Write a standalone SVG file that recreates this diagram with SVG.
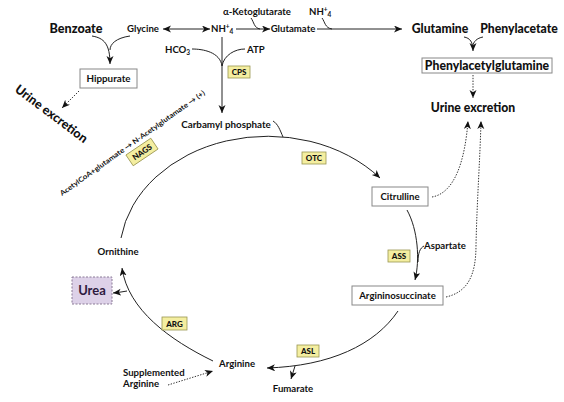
<svg xmlns="http://www.w3.org/2000/svg" width="564" height="402" viewBox="0 0 564 402">
<style>
text{font-family:Lato,"Open Sans","DejaVu Sans",sans-serif;fill:#111;font-weight:700}
.s{font-size:9.6px}
.m{font-size:9.8px}
.h{font-size:12.2px;font-weight:900}
.hb{font-size:12.6px;font-weight:900}
.e{font-size:8px;font-weight:900}
.box{fill:#fff;stroke:#888;stroke-width:1}
.enz{fill:#f4eea0;stroke:#9a9650;stroke-width:0.8}
.ln{fill:none;stroke:#222;stroke-width:1}
.dot{fill:none;stroke:#333;stroke-width:1;stroke-dasharray:1.4 1.4}
</style>
<defs>
<marker id="ah" markerUnits="userSpaceOnUse" markerWidth="9" markerHeight="8" refX="8" refY="3.5" orient="auto-start-reverse">
<path d="M0,0 L8,3.5 L0,7 L2.2,3.5 z" fill="#111"/>
</marker>
</defs>
<rect width="564" height="402" fill="#fff"/>

<g id="connectors">
<path class="ln" d="M163,29 L210,29" marker-start="url(#ah)" marker-end="url(#ah)"/>
<path class="ln" d="M236,29 L270,29" marker-end="url(#ah)"/>
<path class="ln" d="M251,18 C254,22 254,28 260,29"/>
<path class="ln" d="M317,29 L402,29" marker-end="url(#ah)"/>
<path class="ln" d="M322,18 C325,22 325,28 332,29"/>
<path class="ln" d="M464,37 C470,38 473,42 473,51" marker-end="url(#ah)"/>
<path class="ln" d="M483,37 C477,38 473,42 473,46"/>
<path class="dot" d="M473,75 L473,98" marker-end="url(#ah)"/>
<path class="ln" d="M92,36 C104,38 110,44 110,64" marker-end="url(#ah)"/>
<path class="ln" d="M130,36 C116,38 110,44 110,50"/>
<path class="dot" d="M79,91 L62,108" marker-end="url(#ah)"/>
<path class="ln" d="M222,37 L222,113" marker-end="url(#ah)"/>
<path class="ln" d="M192,49 C203,49 220,52 222,66"/>
<path class="ln" d="M245,49 C235,49 224,55 222,66"/>
<path class="ln" d="M273,121 C278,124 280,130 283,137"/>
<path class="ln" d="M121,238 A148,119 0 0 1 380,178" marker-end="url(#ah)"/>
<path class="ln" d="M407,210 C418,230 420,260 415,280" marker-end="url(#ah)"/>
<path class="ln" d="M424,246 C420,248 418,253 418,262"/>
<path class="dot" d="M432,197 C455,193 465,160 468,121" marker-end="url(#ah)"/>
<path class="dot" d="M446,297 C468,292 476,275 476,245 C477,200 480,160 481,121" marker-end="url(#ah)"/>
<path class="ln" d="M398,311 C375,345 330,366 267,368" marker-end="url(#ah)"/>
<path class="ln" d="M295,366 L291,379" marker-end="url(#ah)"/>
<path class="ln" d="M213,361 C170,340 128,310 122,268" marker-end="url(#ah)"/>
<path class="ln" d="M127,291 Q122,292 113,293" marker-end="url(#ah)"/>
<path class="dot" d="M168,385 L213,371" marker-end="url(#ah)"/>
</g>

<g id="benzoate"><text class="hb" x="76" y="33" text-anchor="middle">Benzoate</text></g>
<g id="glycine"><text class="s" x="143" y="32" text-anchor="middle">Glycine</text></g>
<g id="nh4"><text class="s" x="211" y="32">NH<tspan font-size="6.5" dy="-3.5">+</tspan><tspan font-size="6.5" dy="5.5">4</tspan></text></g>
<g id="aketo"><text class="s" x="257" y="15" text-anchor="middle">α-Ketoglutarate</text></g>
<g id="nh4b"><text class="s" x="309" y="15">NH<tspan font-size="6.5" dy="-3.5">+</tspan><tspan font-size="6.5" dy="5.5">4</tspan></text></g>
<g id="glutamate"><text class="s" x="293" y="32" text-anchor="middle">Glutamate</text></g>
<g id="glutamine"><text class="h" x="440" y="33" text-anchor="middle">Glutamine</text></g>
<g id="phenylacetate"><text class="h" x="519" y="33" text-anchor="middle">Phenylacetate</text></g>
<g id="pag"><rect class="box" x="422" y="58" width="130" height="15"/><text class="h" x="487" y="69.5" text-anchor="middle" font-size="11">Phenylacetylglutamine</text></g>
<g id="urine-right"><text class="h" x="473" y="112" text-anchor="middle" font-size="12.6">Urine excretion</text></g>
<g id="hippurate"><rect class="box" x="80" y="69" width="57" height="19"/><text class="m" x="108.5" y="82" text-anchor="middle">Hippurate</text></g>
<g id="urine-left"><text class="hb" transform="translate(14,91) rotate(37)">Urine excretion</text></g>
<g id="hco3"><text class="s" x="165" y="53">HCO<tspan font-size="6.5" dy="2">3</tspan></text></g>
<g id="atp"><text class="s" x="247" y="53">ATP</text></g>
<g id="cps"><rect class="enz" x="228" y="66" width="22" height="12"/><text class="e" x="239" y="75" text-anchor="middle">CPS</text></g>
<g id="carbamyl"><text class="m" x="226" y="128" text-anchor="middle">Carbamyl phosphate</text></g>
<g id="nags-text"><text font-size="7" transform="translate(62,196) rotate(-35.4)" textLength="176" lengthAdjust="spacingAndGlyphs">AcetylCoA+glutamate → N-Acetylglutamate → (+)</text></g>
<g id="nags" transform="translate(142,152) rotate(-34)"><rect class="enz" x="-15" y="-6.5" width="30" height="13"/><text class="e" x="0" y="3" text-anchor="middle">NAGS</text></g>
<g id="otc"><rect class="enz" x="302" y="152" width="24" height="12"/><text class="e" x="314" y="161" text-anchor="middle">OTC</text></g>
<g id="citrulline"><rect class="box" x="372" y="187" width="56" height="19"/><text class="s" x="400" y="200" text-anchor="middle">Citrulline</text></g>
<g id="aspartate"><text class="s" x="424" y="249">Aspartate</text></g>
<g id="ass"><rect class="enz" x="388" y="250" width="22" height="12"/><text class="e" x="399" y="259" text-anchor="middle">ASS</text></g>
<g id="argininosuccinate"><rect class="box" x="352" y="286" width="91" height="19"/><text class="s" x="397.5" y="299" text-anchor="middle">Argininosuccinate</text></g>
<g id="asl"><rect class="enz" x="297" y="345" width="22" height="12"/><text class="e" x="308" y="354" text-anchor="middle">ASL</text></g>
<g id="fumarate"><text class="s" x="293" y="392" text-anchor="middle">Fumarate</text></g>
<g id="arginine"><text class="s" x="219" y="367">Arginine</text></g>
<g id="supplemented"><text class="s" x="123" y="376">Supplemented</text><text class="s" x="123" y="387">Arginine</text></g>
<g id="arg"><rect class="enz" x="162" y="317" width="25" height="13"/><text class="e" x="174.5" y="326.5" text-anchor="middle">ARG</text></g>
<g id="ornithine"><text class="s" x="118" y="255" text-anchor="middle">Ornithine</text></g>
<g id="urea"><rect x="72" y="277" width="40" height="27" fill="#ddd1e8" stroke="#8a7a96" stroke-width="1" stroke-dasharray="2 1.5"/><text x="92" y="295" text-anchor="middle" font-size="13" font-weight="900" style="fill:#2e1a40">Urea</text></g>
</svg>
